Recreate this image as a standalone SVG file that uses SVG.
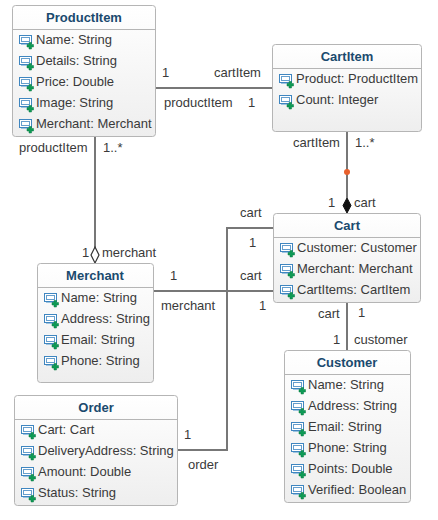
<svg xmlns="http://www.w3.org/2000/svg" width="438" height="520" viewBox="0 0 438 520">
<style>
text{font-family:"Liberation Sans",Arial,sans-serif;font-size:13px;fill:#3a3a3a}
.t{font-weight:bold;fill:#1a4a6e;text-anchor:middle}
.b{fill:url(#g);stroke:#b5b5b5;stroke-width:1}
.s{stroke:#b5b5b5;stroke-width:1;fill:none}
.c{stroke:#777;stroke-width:2;fill:none}
</style>
<defs>
<linearGradient id="g" x1="0" y1="0" x2="0" y2="1"><stop offset="0" stop-color="#ffffff"/><stop offset="1" stop-color="#eeeeee"/></linearGradient>
<g id="i">
<rect x="0.5" y="0.500" width="12" height="8" fill="#fff" stroke="#3f86c0"/>
<rect x="2.500" y="2.500" width="8" height="4" fill="#fff" stroke="#3f86c0" stroke-opacity="0.8"/>
<rect x="2" y="9" width="8" height="1" fill="#9cc3e0"/>
<path d="M10 7.500h2.500v2h2v2.500h-2v2h-2.500v-2h-2v-2.500h2z" fill="#0e9a55" stroke="#0b7a42" stroke-width="0.5"/>
</g>
</defs>
<g id="connectors">
<path class="c" d="M156 88H272"/>
<path class="c" d="M95 137V248"/>
<path class="c" d="M347 132V198"/>
<path class="c" d="M154 291H273"/>
<path class="c" d="M273 228H227V450H178"/>
<path class="c" d="M347 303V350"/>
<circle cx="347" cy="172" r="3" fill="#e8602c"/>
<path d="M95 247L99 255L95 263L91 255Z" fill="#fff" stroke="#333" stroke-width="1.200"/>
<path d="M347 198L351 205.500L347 213L343 205.500Z" fill="#111" stroke="#111"/>
<text x="162" y="77">1</text><text x="214" y="77">cartItem</text>
<text x="164" y="107">productItem</text><text x="248" y="107">1</text>
<text x="19" y="152">productItem</text><text x="103" y="152">1..*</text>
<text x="78" y="257" dx="4">1</text><text x="102" y="257">merchant</text>
<text x="293" y="147">cartItem</text><text x="355" y="147">1..*</text>
<text x="328" y="207">1</text><text x="354" y="207">cart</text>
<text x="240" y="217">cart</text><text x="249" y="247">1</text>
<text x="240" y="280">cart</text><text x="259" y="310">1</text>
<text x="170" y="280">1</text><text x="161" y="310">merchant</text>
<text x="318" y="318">cart</text><text x="358" y="317">1</text>
<text x="333" y="344">1</text><text x="354" y="344">customer</text>
<text x="184" y="439">1</text><text x="188" y="469">order</text>
</g>
<g id="ProductItem">
<rect class="b" x="12.500" y="5.500" width="143" height="131" rx="3"/><path class="s" d="M13 29.500H155"/>
<text class="t" x="84" y="22">ProductItem</text>
<use href="#i" x="19" y="35"/><text x="36" y="44">Name: String</text>
<use href="#i" x="19" y="56"/><text x="36" y="65">Details: String</text>
<use href="#i" x="19" y="77"/><text x="36" y="86">Price: Double</text>
<use href="#i" x="19" y="98"/><text x="36" y="107">Image: String</text>
<use href="#i" x="19" y="119"/><text x="36" y="128">Merchant: Merchant</text>
</g>
<g id="CartItem">
<rect class="b" x="272.500" y="44.500" width="149" height="87" rx="3"/><path class="s" d="M273 68.500H421"/>
<text class="t" x="347" y="61">CartItem</text>
<use href="#i" x="279" y="74"/><text x="296" y="83">Product: ProductItem</text>
<use href="#i" x="279" y="95"/><text x="296" y="104">Count: Integer</text>
</g>
<g id="Cart">
<rect class="b" x="273.500" y="213.500" width="147" height="89" rx="3"/><path class="s" d="M274 237.500H420"/>
<text class="t" x="347" y="230">Cart</text>
<use href="#i" x="280" y="243"/><text x="297" y="252">Customer: Customer</text>
<use href="#i" x="280" y="264"/><text x="297" y="273">Merchant: Merchant</text>
<use href="#i" x="280" y="285"/><text x="297" y="294">CartItems: CartItem</text>
</g>
<g id="Merchant">
<rect class="b" x="37.500" y="263.500" width="116" height="119" rx="3"/><path class="s" d="M38 287.500H153"/>
<text class="t" x="95" y="280">Merchant</text>
<use href="#i" x="44" y="293"/><text x="61" y="302">Name: String</text>
<use href="#i" x="44" y="314"/><text x="61" y="323">Address: String</text>
<use href="#i" x="44" y="335"/><text x="61" y="344">Email: String</text>
<use href="#i" x="44" y="356"/><text x="61" y="365">Phone: String</text>
</g>
<g id="Order">
<rect class="b" x="14.500" y="395.500" width="163" height="110" rx="3"/><path class="s" d="M15 419.500H177"/>
<text class="t" x="96" y="412">Order</text>
<use href="#i" x="21" y="425"/><text x="38" y="434">Cart: Cart</text>
<use href="#i" x="21" y="446"/><text x="38" y="455">DeliveryAddress: String</text>
<use href="#i" x="21" y="467"/><text x="38" y="476">Amount: Double</text>
<use href="#i" x="21" y="488"/><text x="38" y="497">Status: String</text>
</g>
<g id="Customer">
<rect class="b" x="284.500" y="350.500" width="126" height="152" rx="3"/><path class="s" d="M285 374.500H410"/>
<text class="t" x="347" y="367">Customer</text>
<use href="#i" x="291" y="380"/><text x="308" y="389">Name: String</text>
<use href="#i" x="291" y="401"/><text x="308" y="410">Address: String</text>
<use href="#i" x="291" y="422"/><text x="308" y="431">Email: String</text>
<use href="#i" x="291" y="443"/><text x="308" y="452">Phone: String</text>
<use href="#i" x="291" y="464"/><text x="308" y="473">Points: Double</text>
<use href="#i" x="291" y="485"/><text x="308" y="494">Verified: Boolean</text>
</g>
</svg>
